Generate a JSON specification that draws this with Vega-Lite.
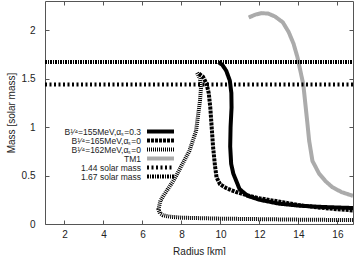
{
  "$schema": "https://vega.github.io/schema/vega-lite/v6.json",
  "width": 308,
  "height": 223,
  "autosize": {"type": "none"},
  "padding": {"left": 45, "top": 1, "right": 1, "bottom": 31},
  "config": {
    "font": "Liberation Sans",
    "view": {"stroke": "#555", "strokeWidth": 1},
    "axis": {
      "domain": false,
      "grid": false,
      "tickColor": "#555",
      "tickSize": -4,
      "tickWidth": 1,
      "labelFontSize": 10,
      "labelColor": "#222",
      "titleFontSize": 10,
      "titleFontWeight": "normal",
      "titleColor": "#222"
    },
    "legend": {"orient": "none", "legendX": 100, "legendY": 126, "title": null, "symbolType": "stroke", "symbolSize": 729, "labelFontSize": 8.5, "labelColor": "#222", "labelAlign": "right", "labelOffset": -35, "rowPadding": 0, "clipHeight": 9, "padding": 0}
  },
  "datasets": {
    "curves": [
      {"s": "B¹⁄⁴=155MeV,αₛ=0.3", "i": 0, "R": 9.9, "M": 1.67},
      {"s": "B¹⁄⁴=155MeV,αₛ=0.3", "i": 1, "R": 10.1, "M": 1.64},
      {"s": "B¹⁄⁴=155MeV,αₛ=0.3", "i": 2, "R": 10.3, "M": 1.58},
      {"s": "B¹⁄⁴=155MeV,αₛ=0.3", "i": 3, "R": 10.48, "M": 1.48},
      {"s": "B¹⁄⁴=155MeV,αₛ=0.3", "i": 4, "R": 10.56, "M": 1.35},
      {"s": "B¹⁄⁴=155MeV,αₛ=0.3", "i": 5, "R": 10.57, "M": 1.2},
      {"s": "B¹⁄⁴=155MeV,αₛ=0.3", "i": 6, "R": 10.52, "M": 1.0},
      {"s": "B¹⁄⁴=155MeV,αₛ=0.3", "i": 7, "R": 10.5, "M": 0.8},
      {"s": "B¹⁄⁴=155MeV,αₛ=0.3", "i": 8, "R": 10.55, "M": 0.62},
      {"s": "B¹⁄⁴=155MeV,αₛ=0.3", "i": 9, "R": 10.66, "M": 0.52},
      {"s": "B¹⁄⁴=155MeV,αₛ=0.3", "i": 10, "R": 10.8, "M": 0.45},
      {"s": "B¹⁄⁴=155MeV,αₛ=0.3", "i": 11, "R": 10.98, "M": 0.36},
      {"s": "B¹⁄⁴=155MeV,αₛ=0.3", "i": 12, "R": 11.4, "M": 0.29},
      {"s": "B¹⁄⁴=155MeV,αₛ=0.3", "i": 13, "R": 12.0, "M": 0.25},
      {"s": "B¹⁄⁴=155MeV,αₛ=0.3", "i": 14, "R": 13.0, "M": 0.21},
      {"s": "B¹⁄⁴=155MeV,αₛ=0.3", "i": 15, "R": 14.0, "M": 0.19},
      {"s": "B¹⁄⁴=155MeV,αₛ=0.3", "i": 16, "R": 15.0, "M": 0.178},
      {"s": "B¹⁄⁴=155MeV,αₛ=0.3", "i": 17, "R": 16.0, "M": 0.17},
      {"s": "B¹⁄⁴=155MeV,αₛ=0.3", "i": 18, "R": 16.8, "M": 0.165},

      {"s": "B¹⁄⁴=165MeV,αₛ=0", "i": 0, "R": 8.9, "M": 1.55},
      {"s": "B¹⁄⁴=165MeV,αₛ=0", "i": 1, "R": 9.1, "M": 1.52},
      {"s": "B¹⁄⁴=165MeV,αₛ=0", "i": 2, "R": 9.28, "M": 1.45},
      {"s": "B¹⁄⁴=165MeV,αₛ=0", "i": 3, "R": 9.4, "M": 1.35},
      {"s": "B¹⁄⁴=165MeV,αₛ=0", "i": 4, "R": 9.48, "M": 1.2},
      {"s": "B¹⁄⁴=165MeV,αₛ=0", "i": 5, "R": 9.55, "M": 1.0},
      {"s": "B¹⁄⁴=165MeV,αₛ=0", "i": 6, "R": 9.62, "M": 0.8},
      {"s": "B¹⁄⁴=165MeV,αₛ=0", "i": 7, "R": 9.72, "M": 0.6},
      {"s": "B¹⁄⁴=165MeV,αₛ=0", "i": 8, "R": 9.8, "M": 0.48},
      {"s": "B¹⁄⁴=165MeV,αₛ=0", "i": 9, "R": 9.98, "M": 0.41},
      {"s": "B¹⁄⁴=165MeV,αₛ=0", "i": 10, "R": 10.3, "M": 0.37},
      {"s": "B¹⁄⁴=165MeV,αₛ=0", "i": 11, "R": 10.8, "M": 0.33},
      {"s": "B¹⁄⁴=165MeV,αₛ=0", "i": 12, "R": 11.3, "M": 0.3},
      {"s": "B¹⁄⁴=165MeV,αₛ=0", "i": 13, "R": 12.0, "M": 0.265},
      {"s": "B¹⁄⁴=165MeV,αₛ=0", "i": 14, "R": 13.2, "M": 0.225},
      {"s": "B¹⁄⁴=165MeV,αₛ=0", "i": 15, "R": 14.0, "M": 0.195},
      {"s": "B¹⁄⁴=165MeV,αₛ=0", "i": 16, "R": 15.0, "M": 0.17},
      {"s": "B¹⁄⁴=165MeV,αₛ=0", "i": 17, "R": 16.0, "M": 0.152},
      {"s": "B¹⁄⁴=165MeV,αₛ=0", "i": 18, "R": 16.8, "M": 0.14},

      {"s": "B¹⁄⁴=162MeV,αₛ=0", "i": 0, "R": 8.8, "M": 1.56},
      {"s": "B¹⁄⁴=162MeV,αₛ=0", "i": 1, "R": 8.95, "M": 1.5},
      {"s": "B¹⁄⁴=162MeV,αₛ=0", "i": 2, "R": 9.0, "M": 1.4},
      {"s": "B¹⁄⁴=162MeV,αₛ=0", "i": 3, "R": 8.95, "M": 1.27},
      {"s": "B¹⁄⁴=162MeV,αₛ=0", "i": 4, "R": 8.75, "M": 0.96},
      {"s": "B¹⁄⁴=162MeV,αₛ=0", "i": 5, "R": 8.4, "M": 0.75},
      {"s": "B¹⁄⁴=162MeV,αₛ=0", "i": 6, "R": 8.0, "M": 0.6},
      {"s": "B¹⁄⁴=162MeV,αₛ=0", "i": 7, "R": 7.6, "M": 0.45},
      {"s": "B¹⁄⁴=162MeV,αₛ=0", "i": 8, "R": 7.2, "M": 0.33},
      {"s": "B¹⁄⁴=162MeV,αₛ=0", "i": 9, "R": 6.92, "M": 0.24},
      {"s": "B¹⁄⁴=162MeV,αₛ=0", "i": 10, "R": 6.82, "M": 0.15},
      {"s": "B¹⁄⁴=162MeV,αₛ=0", "i": 11, "R": 6.9, "M": 0.11},
      {"s": "B¹⁄⁴=162MeV,αₛ=0", "i": 12, "R": 7.05, "M": 0.09},
      {"s": "B¹⁄⁴=162MeV,αₛ=0", "i": 13, "R": 7.4, "M": 0.075},
      {"s": "B¹⁄⁴=162MeV,αₛ=0", "i": 14, "R": 8.0, "M": 0.065},
      {"s": "B¹⁄⁴=162MeV,αₛ=0", "i": 15, "R": 10.0, "M": 0.055},
      {"s": "B¹⁄⁴=162MeV,αₛ=0", "i": 16, "R": 12.0, "M": 0.05},
      {"s": "B¹⁄⁴=162MeV,αₛ=0", "i": 17, "R": 14.0, "M": 0.045},
      {"s": "B¹⁄⁴=162MeV,αₛ=0", "i": 18, "R": 16.8, "M": 0.04},

      {"s": "TM1", "i": 0, "R": 11.45, "M": 2.13},
      {"s": "TM1", "i": 1, "R": 11.8, "M": 2.16},
      {"s": "TM1", "i": 2, "R": 12.1, "M": 2.175},
      {"s": "TM1", "i": 3, "R": 12.45, "M": 2.17},
      {"s": "TM1", "i": 4, "R": 12.8, "M": 2.14},
      {"s": "TM1", "i": 5, "R": 13.2, "M": 2.08},
      {"s": "TM1", "i": 6, "R": 13.5, "M": 1.98},
      {"s": "TM1", "i": 7, "R": 13.75, "M": 1.86},
      {"s": "TM1", "i": 8, "R": 13.95, "M": 1.72},
      {"s": "TM1", "i": 9, "R": 14.1, "M": 1.58},
      {"s": "TM1", "i": 10, "R": 14.25, "M": 1.44},
      {"s": "TM1", "i": 11, "R": 14.35, "M": 1.25},
      {"s": "TM1", "i": 12, "R": 14.45, "M": 1.06},
      {"s": "TM1", "i": 13, "R": 14.55, "M": 0.86},
      {"s": "TM1", "i": 14, "R": 14.72, "M": 0.65},
      {"s": "TM1", "i": 15, "R": 15.06, "M": 0.52},
      {"s": "TM1", "i": 16, "R": 15.4, "M": 0.44},
      {"s": "TM1", "i": 17, "R": 15.74, "M": 0.38},
      {"s": "TM1", "i": 18, "R": 16.2, "M": 0.33},
      {"s": "TM1", "i": 19, "R": 16.8, "M": 0.29},

      {"s": "1.44 solar mass", "i": 0, "R": 1, "M": 1.44},
      {"s": "1.44 solar mass", "i": 1, "R": 16.8, "M": 1.44},
      {"s": "1.67 solar mass", "i": 0, "R": 1, "M": 1.67},
      {"s": "1.67 solar mass", "i": 1, "R": 16.8, "M": 1.67}
    ]
  },
  "data": {"name": "curves"},
  "layer": [
    {
      "mark": {"type": "line", "strokeCap": "butt", "strokeJoin": "round", "clip": true},
      "encoding": {
        "x": {
          "field": "R", "type": "quantitative",
          "scale": {"domain": [1, 16.8], "nice": false, "zero": false},
          "axis": {"values": [2, 4, 6, 8, 10, 12, 14, 16], "title": "Radius [km]", "labelPadding": 9, "titlePadding": 7}
        },
        "y": {
          "field": "M", "type": "quantitative",
          "scale": {"domain": [0, 2.3], "nice": false},
          "axis": {"values": [0, 0.5, 1, 1.5, 2], "format": "~g", "title": "Mass [solar mass]", "labelPadding": 14, "titlePadding": 5}
        },
        "order": {"field": "i", "type": "quantitative"},
        "color": {
          "field": "s", "type": "nominal",
          "scale": {
            "domain": ["B¹⁄⁴=155MeV,αₛ=0.3", "B¹⁄⁴=165MeV,αₛ=0", "B¹⁄⁴=162MeV,αₛ=0", "TM1", "1.44 solar mass", "1.67 solar mass"],
            "range": ["#000000", "#000000", "#000000", "#ababab", "#000000", "#000000"]
          },
          "legend": {"encode": {"entries": {"update": {"width": {"value": 40}, "height": {"value": 9}}}}}
        },
        "strokeDash": {
          "field": "s", "type": "nominal",
          "scale": {
            "domain": ["B¹⁄⁴=155MeV,αₛ=0.3", "B¹⁄⁴=165MeV,αₛ=0", "B¹⁄⁴=162MeV,αₛ=0", "TM1", "1.44 solar mass", "1.67 solar mass"],
            "range": [[1, 0], [3, 1], [1, 1], [1, 0], [2, 2.5], [2, 1, 1, 1]]
          },
          "legend": {"encode": {"entries": {"update": {"width": {"value": 40}, "height": {"value": 9}}}}}
        },
        "strokeWidth": {
          "field": "s", "type": "nominal",
          "scale": {
            "domain": ["B¹⁄⁴=155MeV,αₛ=0.3", "B¹⁄⁴=165MeV,αₛ=0", "B¹⁄⁴=162MeV,αₛ=0", "TM1", "1.44 solar mass", "1.67 solar mass"],
            "range": [4, 4, 3, 2.5, 1.4, 1.4]
          },
          "legend": {"encode": {"entries": {"update": {"width": {"value": 40}, "height": {"value": 9}}}}}
        }
      }
    },
    {
      "mark": {"type": "point", "opacity": 0},
      "encoding": {
        "x": {"field": "R", "type": "quantitative", "axis": {"orient": "top", "values": [2, 4, 6, 8, 10, 12, 14, 16], "labels": false, "title": null}},
        "y": {"field": "M", "type": "quantitative", "axis": {"orient": "right", "values": [0, 0.5, 1, 1.5, 2], "labels": false, "title": null}}
      }
    }
  ],
  "resolve": {"axis": {"x": "independent", "y": "independent"}}
}
